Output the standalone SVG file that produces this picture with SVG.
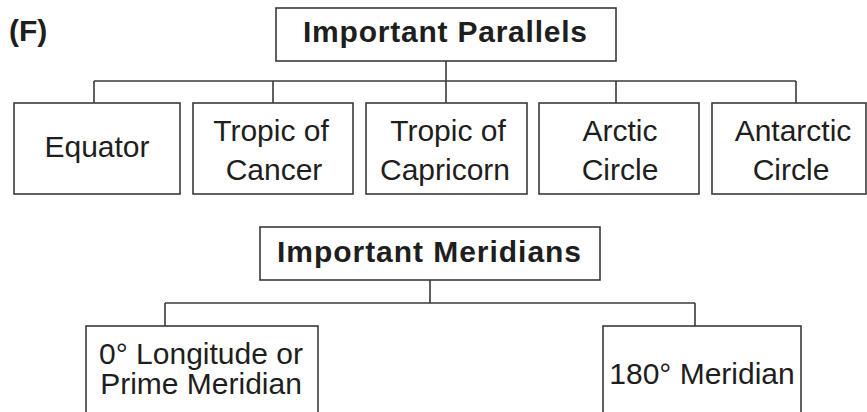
<svg xmlns="http://www.w3.org/2000/svg" width="867" height="412" viewBox="0 0 867 412">
<style>
  .box { fill: #ffffff; stroke: #3a3a3a; stroke-width: 1.6; }
  .conn { fill: none; stroke: #3a3a3a; stroke-width: 1.6; }
  .t { font-family: "Liberation Sans", Arial, sans-serif; font-size: 30px; fill: #1e1e1e; text-anchor: middle; }
  .h { font-family: "Liberation Sans", Arial, sans-serif; font-size: 30px; font-weight: bold; fill: #1e1e1e; text-anchor: middle; }
  .lbl { font-family: "Liberation Sans", Arial, sans-serif; font-size: 30px; font-weight: bold; fill: #1e1e1e; }
</style>
<rect width="867" height="412" fill="#ffffff"/>
<text class="lbl" x="9" y="41">(F)</text>

<g id="connectors">
  <path class="conn" d="M446 61 V103 M94 81 H796 M94 81 V103 M273 81 V103 M616 81 V103 M796 81 V103"/>
  <path class="conn" d="M430 280 V303 M165 303 H695 M165 303 V326 M695 303 V326"/>
</g>

<g id="parallels">
  <rect class="box" x="276" y="8" width="340" height="53"/>
  <text class="h" x="445" y="42" textLength="284">Important Parallels</text>
</g>
<g id="equator">
  <rect class="box" x="14" y="103" width="166" height="91"/>
  <text class="t" x="97" y="157">Equator</text>
</g>
<g id="cancer">
  <rect class="box" x="193" y="103" width="160" height="91"/>
  <text class="t" x="271" y="141">Tropic of</text>
  <text class="t" x="274" y="180">Cancer</text>
</g>
<g id="capricorn">
  <rect class="box" x="366" y="103" width="161" height="91"/>
  <text class="t" x="448" y="141">Tropic of</text>
  <text class="t" x="445" y="180">Capricorn</text>
</g>
<g id="arctic">
  <rect class="box" x="539" y="103" width="160" height="91"/>
  <text class="t" x="620" y="141">Arctic</text>
  <text class="t" x="620" y="180">Circle</text>
</g>
<g id="antarctic">
  <rect class="box" x="712" y="103" width="154" height="91"/>
  <text class="t" x="793" y="141">Antarctic</text>
  <text class="t" x="791" y="180">Circle</text>
</g>

<g id="meridians">
  <rect class="box" x="260" y="227" width="340" height="53"/>
  <text class="h" x="429" y="262" textLength="304">Important Meridians</text>
</g>
<g id="prime">
  <rect class="box" x="86" y="326" width="232" height="100"/>
  <text class="t" x="201" y="364">0° Longitude or</text>
  <text class="t" x="201" y="394">Prime Meridian</text>
</g>
<g id="m180">
  <rect class="box" x="603" y="326" width="198" height="100"/>
  <text class="t" x="702" y="384">180° Meridian</text>
</g>
</svg>
